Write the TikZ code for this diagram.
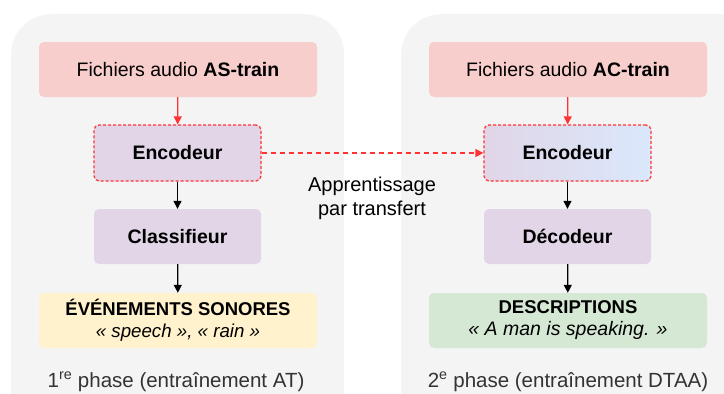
\documentclass[tikz,border=0pt]{standalone}
\usepackage{fontspec}
\setmainfont{Liberation Sans}
\usetikzlibrary{arrows.meta}
\definecolor{contbg}{HTML}{F4F4F4}
\definecolor{redln}{HTML}{FF3333}
\definecolor{pinkbg}{HTML}{F8CECC}
\definecolor{purplebg}{HTML}{E1D5E7}
\definecolor{yellowbg}{HTML}{FFF2CC}
\definecolor{greenbg}{HTML}{D5E8D4}
\definecolor{bluebg}{HTML}{DAE8FC}
\definecolor{labelgray}{HTML}{333333}
\newcommand{\titlefont}{\fontsize{18.5}{22}\selectfont\bfseries}
\tikzset{
  container/.style={fill=contbg, draw=none, rounded corners=40pt, minimum width=#1, minimum height=420pt, inner sep=0pt},
  box/.style={rounded corners=5pt, draw=none, minimum height=55pt, inner sep=0pt, align=center, font=\fontsize{19.5}{22}\selectfont},
  wide/.style={box, minimum width=278pt},
  narrow/.style={box, minimum width=167pt, font=\fontsize{19.5}{22}\selectfont\bfseries},
  enc/.style={narrow, draw=redln, dashed, line width=1.2pt, dash pattern=on 3pt off 2pt, minimum height=56pt},
  redarrow/.style={draw=redln, line width=1.2pt, -{Triangle[length=8pt,width=8pt]}},
  blackarrow/.style={draw=black, line width=1.2pt, -{Triangle[length=8pt,width=8pt]}},
  phase/.style={font=\fontsize{20.5}{24}\selectfont, text=labelgray},
}
\begin{document}
\begin{tikzpicture}[x=1pt,y=-1pt]
\clip (0,0) rectangle (724,394);
\useasboundingbox (0,0) rectangle (724,394);
\node[container=333pt, anchor=north west] (c1) at (11,14) {};
\node[container=363pt, anchor=north west] (c2) at (401,14) {};

% left column
\node[wide, fill=pinkbg] (f1) at (178,69.5) {Fichiers audio \textbf{AS-train}};
\node[enc, fill=purplebg] (e1) at (177.5,153) {Encodeur};
\node[narrow, fill=purplebg] (cl) at (177.5,236.5) {Classifieur};
\node[wide, fill=yellowbg] (ev) at (178,320.5) {{\titlefont ÉVÉNEMENTS SONORES}\\{\fontsize{18.7}{22}\selectfont\itshape « speech », « rain »}};
\node[phase] (p1) at (176,382) {1\textsuperscript{re} phase (entraînement AT)};

% right column
\node[wide, fill=pinkbg] (f2) at (568,69.5) {Fichiers audio \textbf{AC-train}};
\node[enc, left color=purplebg, right color=bluebg] (e2) at (567.5,153) {Encodeur};
\node[narrow, fill=purplebg] (de) at (567.5,236.5) {Décodeur};
\node[wide, fill=greenbg] (ds) at (568,320.5) {{\titlefont DESCRIPTIONS}\\\textit{« A man is speaking. »}};
\node[phase] (p2) at (568,382) {2\textsuperscript{e} phase (entraînement DTAA)};

\node[align=center, font=\fontsize{20}{24}\selectfont] (tr) at (372,198) {Apprentissage\\par transfert};

\draw[redarrow] (f1) -- (e1);
\draw[blackarrow] (e1) -- (cl);
\draw[blackarrow] (cl) -- (ev);
\draw[redarrow] (f2) -- (e2);
\draw[blackarrow] (e2) -- (de);
\draw[blackarrow] (de) -- (ds);
\draw[redarrow, dash pattern=on 5pt off 4pt] (e1) -- (e2);
\end{tikzpicture}
\end{document}
